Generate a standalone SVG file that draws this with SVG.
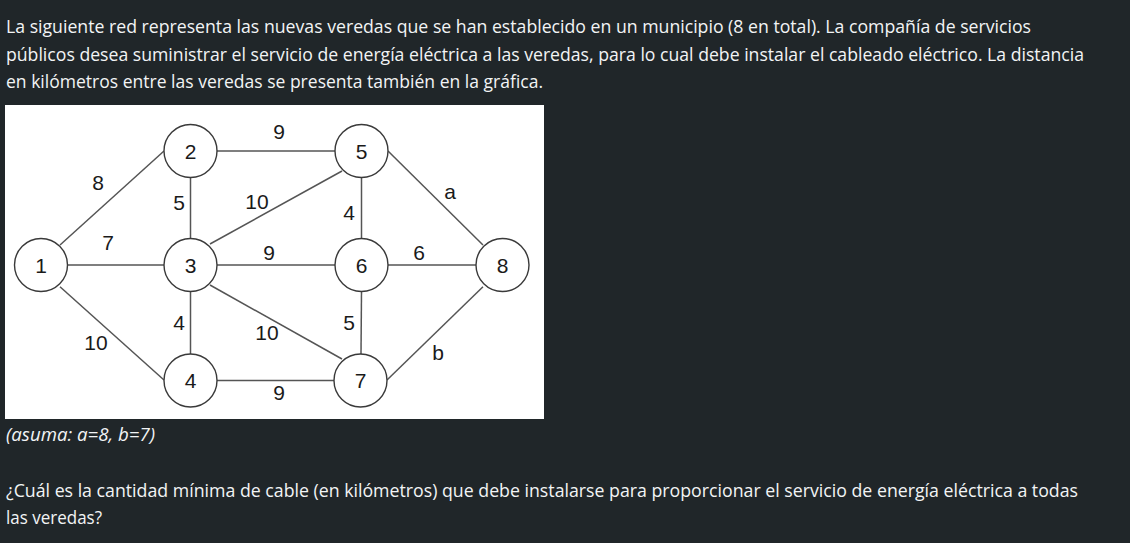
<svg xmlns="http://www.w3.org/2000/svg" width="1130" height="543" viewBox="0 0 1130 543">
<style>
.body{font-family:"Open Sans","Noto Sans","Liberation Sans",sans-serif;font-size:18px;fill:#f2f4f5}
.it{font-style:italic}
.n circle{fill:#ffffff;stroke:#3a3a3a;stroke-width:1.4}
.lbl{font-family:"Liberation Sans",Arial,sans-serif;font-size:21px;fill:#1a1a1a;text-anchor:middle}
#connectors line{stroke:#555555;stroke-width:1.5}
</style>
<rect x="0" y="0" width="1130" height="543" fill="#202629"/>
<g id="text-top">
<text class="body" x="6" y="33.3" textLength="1025" lengthAdjust="spacingAndGlyphs">La siguiente red representa las nuevas veredas que se han establecido en un municipio (8 en total). La compañía de servicios</text>
<text class="body" x="6" y="61" textLength="1078" lengthAdjust="spacingAndGlyphs">públicos desea suministrar el servicio de energía eléctrica a las veredas, para lo cual debe instalar el cableado eléctrico. La distancia</text>
<text class="body" x="6" y="88.3" textLength="537" lengthAdjust="spacingAndGlyphs">en kilómetros entre las veredas se presenta también en la gráfica.</text>
</g>
<rect x="5" y="105" width="539" height="314" fill="#ffffff"/>
<g id="connectors">
<line x1="60" y1="245" x2="164" y2="151"/>
<line x1="67.5" y1="265" x2="164" y2="265"/>
<line x1="60" y1="286.7" x2="164" y2="380"/>
<line x1="190.5" y1="177.5" x2="190.5" y2="238.5"/>
<line x1="217" y1="151" x2="335" y2="151"/>
<line x1="210" y1="244" x2="342" y2="171"/>
<line x1="217" y1="265" x2="335" y2="265"/>
<line x1="210" y1="285" x2="342" y2="359"/>
<line x1="190.5" y1="291.5" x2="190.5" y2="354"/>
<line x1="217" y1="380.5" x2="334" y2="380.5"/>
<line x1="361.5" y1="177.5" x2="361.5" y2="238.5"/>
<line x1="361.5" y1="291.5" x2="361" y2="354"/>
<line x1="388" y1="151" x2="483" y2="245"/>
<line x1="388" y1="265" x2="476" y2="265"/>
<line x1="387" y1="380" x2="483" y2="286.7"/>
</g>
<g id="edge-labels">
<text class="lbl" x="279" y="138.5">9</text>
<text class="lbl" x="98" y="189.5">8</text>
<text class="lbl" x="179" y="209.5">5</text>
<text class="lbl" x="257" y="208.5">10</text>
<text class="lbl" x="349" y="219.5">4</text>
<text class="lbl" x="450" y="198.5">a</text>
<text class="lbl" x="108" y="249.5">7</text>
<text class="lbl" x="269" y="259.5">9</text>
<text class="lbl" x="419" y="259.5">6</text>
<text class="lbl" x="179" y="329.5">4</text>
<text class="lbl" x="96" y="349.5">10</text>
<text class="lbl" x="267" y="339.5">10</text>
<text class="lbl" x="349" y="329.5">5</text>
<text class="lbl" x="438" y="359.5">b</text>
<text class="lbl" x="279" y="399.5">9</text>
</g>
<g id="node1" class="n"><circle cx="41" cy="265" r="26.5"/><text class="lbl" x="41" y="272.5">1</text></g>
<g id="node2" class="n"><circle cx="190.5" cy="151" r="26.5"/><text class="lbl" x="190.5" y="158.5">2</text></g>
<g id="node3" class="n"><circle cx="190.5" cy="265" r="26.5"/><text class="lbl" x="190.5" y="272.5">3</text></g>
<g id="node4" class="n"><circle cx="190.5" cy="380.5" r="26.5"/><text class="lbl" x="190.5" y="388">4</text></g>
<g id="node5" class="n"><circle cx="361.5" cy="151" r="26.5"/><text class="lbl" x="361.5" y="158.5">5</text></g>
<g id="node6" class="n"><circle cx="361.5" cy="265" r="26.5"/><text class="lbl" x="361.5" y="272.5">6</text></g>
<g id="node7" class="n"><circle cx="360.5" cy="380.5" r="26.5"/><text class="lbl" x="360.5" y="388">7</text></g>
<g id="node8" class="n"><circle cx="502.5" cy="265" r="26.5"/><text class="lbl" x="502.5" y="272.5">8</text></g>
<g id="text-bottom">
<text class="body it" x="6" y="441" textLength="149" lengthAdjust="spacingAndGlyphs">(asuma: a=8, b=7)</text>
<text class="body" x="6" y="496.7" textLength="1072" lengthAdjust="spacingAndGlyphs">¿Cuál es la cantidad mínima de cable (en kilómetros) que debe instalarse para proporcionar el servicio de energía eléctrica a todas</text>
<text class="body" x="6" y="524.3" textLength="96" lengthAdjust="spacingAndGlyphs">las veredas?</text>
</g>
</svg>
